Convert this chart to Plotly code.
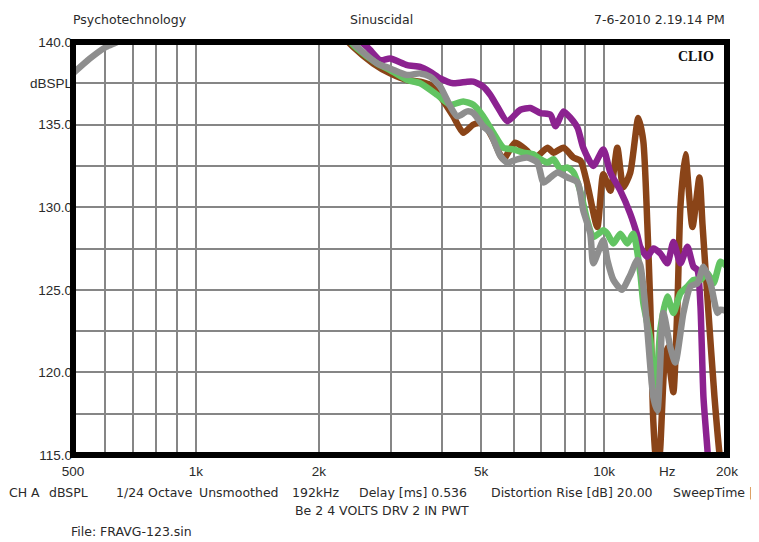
import math
import plotly.graph_objects as go

# ---------------- data ----------------
freq_gray = [500, 550, 602, 641, 1000, 2000, 2484, 2781, 2992, 3294, 3543, 3749, 3968, 4199, 4369,
             4621, 4780, 5057, 5262, 5568, 5793, 6130, 6487, 6865, 7102, 7390, 7688, 8136, 8610,
             8891, 9250, 9408, 9955, 10184, 10536, 11060, 11591, 12058, 12264, 12474, 12759, 13200,
             13502, 13969, 14531, 14949, 15641, 16274, 16930, 17513, 18220, 18957, 19283, 20000]
db_gray = [138.1, 139.0, 139.7, 140.0, 142.5, 142.0, 139.7, 138.7, 138.4, 138.0, 138.1, 137.9, 137.3,
           136.1, 135.5, 135.8, 135.7, 134.9, 134.5, 133.1, 132.7, 132.9, 133.0, 132.7, 131.5, 131.8,
           132.1, 131.8, 131.5, 129.8, 128.4, 126.6, 128.0, 126.8, 125.6, 125.0, 125.9, 126.8, 126.5,
           125.2, 122.6, 118.5, 117.7, 123.6, 121.5, 120.6, 123.6, 125.2, 125.4, 126.4, 125.4, 123.6,
           123.8, 123.7]

freq_green = [2000, 2484, 2781, 2992, 3294, 3543, 3901, 4199, 4517, 4780, 5057, 5352, 5663, 5993,
              6342, 6711, 6983, 7265, 7516, 7820, 8136, 8418, 8757, 9094, 9408, 9955, 10184, 10536,
              10958, 11396, 11788, 12264, 12474, 12977, 13200, 13350, 13502, 13733, 14287, 14780,
              15377, 16000, 16552, 17219, 17913, 18533, 19283, 20000]
db_green = [142.0, 139.6, 138.7, 138.3, 137.7, 137.5, 136.8, 136.2, 136.4, 136.2, 135.5, 134.5, 133.6,
            133.5, 133.3, 133.2, 132.9, 132.7, 132.9, 132.3, 132.4, 132.1, 130.9, 129.2, 128.2, 128.6,
            128.4, 127.8, 128.4, 127.8, 128.4, 126.0, 124.2, 122.0, 119.6, 119.2, 120.1, 122.6, 124.6,
            123.6, 124.8, 125.2, 125.6, 125.6, 126.0, 125.4, 126.7, 126.4]

freq_brown = [2000, 2428, 2719, 2992, 3294, 3543, 3749, 3968, 4271, 4517, 4780, 5057, 5352, 5663,
              6050, 6487, 6711, 7265, 7516, 7953, 8418, 8757, 9094, 9623, 9955, 10358, 10772, 11143,
              11591, 12126, 12474, 12759, 12977, 13200, 13502, 13733, 14048, 14287, 14531, 14780,
              15119, 15377, 15811, 16459, 17120, 17414, 17913, 18638, 19283, 20000]
db_brown = [142.0, 139.7, 138.7, 138.1, 137.7, 137.6, 137.4, 136.7, 135.5, 134.5, 135.0, 135.1, 134.1,
            132.9, 133.9, 133.4, 132.9, 133.6, 133.3, 133.6, 133.0, 132.8, 131.4, 128.8, 132.0, 131.0,
            133.6, 131.2, 132.1, 135.4, 134.0, 129.0, 124.0, 117.0, 113.5, 115.5, 120.5, 121.5, 120.0,
            118.8, 124.0, 130.0, 133.2, 128.8, 131.8, 129.0, 124.5, 118.5, 114.5, 112.0]

freq_purple = [2000, 2628, 2829, 2992, 3294, 3543, 3749, 3968, 4271, 4621, 4780, 5057, 5262, 5474,
               5793, 6235, 6598, 6983, 7390, 7602, 7953, 8275, 8610, 8891, 9408, 9955, 10358, 10958,
               11591, 12058, 12264, 12759, 13200, 13733, 14287, 14780, 15377, 16000, 16552, 16930,
               17219, 17513, 17913, 18220]
db_purple = [142.0, 139.7, 138.9, 139.0, 138.6, 138.5, 138.2, 137.8, 137.5, 137.6, 137.6, 137.3, 136.8,
             136.1, 135.2, 135.9, 136.0, 135.7, 135.6, 134.9, 135.8, 135.4, 134.8, 133.6, 132.5, 133.5,
             132.1, 131.0, 129.6, 128.3, 127.6, 127.0, 127.5, 127.2, 126.6, 127.9, 126.6, 127.6, 126.4,
             126.2, 124.0, 118.5, 115.3, 112.5]

x_grid_vals = [500, 600, 700, 800, 900, 1000, 2000, 3000, 4000, 5000, 6000, 7000, 8000, 9000, 10000, 20000]
x_grid_text = ["500", "", "", "", "", "1k", "2k", "", "", "5k", "", "", "", "", "10k", "20k"]
y_grid_vals = [115, 117.5, 120, 122.5, 125, 127.5, 130, 132.5, 135, 137.5, 140]
y_grid_text = ["115.0", "", "120.0", "", "125.0", "", "130.0", "", "135.0", "dBSPL", "140.0"]

FONT = "Liberation Sans, Arial, sans-serif"
WFONT = "DejaVu Sans, Verdana, sans-serif"
TXT = "#2a2a2a"

fig = go.Figure()
series = [
    (freq_brown, db_brown, "#8a4418"),
    (freq_purple, db_purple, "#8c2290"),
    (freq_green, db_green, "#62c462"),
    (freq_gray, db_gray, "#8e8e8e"),
]
for fx, fy, col in series:
    fig.add_trace(go.Scatter(x=fx, y=fy, mode="lines",
                             line=dict(color=col, width=6.5, shape="spline", smoothing=0.6),
                             hoverinfo="skip", showlegend=False))

fig.update_xaxes(type="log", range=[math.log10(500), math.log10(20000)],
                 tickvals=x_grid_vals, ticktext=x_grid_text, automargin=False,
                 showgrid=True, gridcolor="#868686", gridwidth=1.8,
                 zeroline=False, showline=False, ticks="", ticklabelstandoff=6,
                 tickfont=dict(family=FONT, size=13.5, color=TXT))
fig.update_yaxes(range=[115, 140], tickvals=y_grid_vals, ticktext=y_grid_text, automargin=False,
                 showgrid=True, gridcolor="#868686", gridwidth=1.8,
                 zeroline=False, showline=False, ticks="",
                 tickfont=dict(family=FONT, size=13.5, color=TXT))

# thick frame
fig.add_shape(type="rect", xref="paper", yref="paper", x0=0, x1=1, y0=0, y1=1,
              line=dict(color="black", width=6), layer="above")

# the page body adds an 8px offset; figure is sized so the plot area lands at page x 73..727, y 42..455
OFF = 8
W, H = 759 - OFF, 542 - OFF
PL, PT, PR, PB = 73, 42, 727, 455          # plot area in page pixels
pw, ph = PR - PL, PB - PT


def px(xp):
    return (xp - PL) / pw


def py(yp):
    return (PB - yp) / ph


def ann(text, xp, yp, anchor="left", size=12.5, family=WFONT, color=TXT):
    fig.add_annotation(text=text, x=px(xp), y=py(yp), xref="paper", yref="paper",
                       xanchor=anchor, yanchor="middle", showarrow=False,
                       font=dict(family=family, size=size, color=color))


ann("Psychotechnology", 71, 19)
ann("Sinuscidal", 381, 19, "center")
ann("7-6-2010 2.19.14 PM", 727, 19, "right")
ann("<b>CLIO</b>", 716, 56, "right", size=14, family="Liberation Serif, Times New Roman, serif", color="#111")
ann("Hz", 667, 471, "center", size=13.5, family=FONT)

footer = [("CH A", 7), ("dBSPL", 47), ("1/24 Octave", 114), ("Unsmoothed", 197), ("192kHz", 290),
          ("Delay [ms] 0.536", 357), ("Distortion Rise [dB] 20.00", 489), ("SweepTime |", 671)]
for t, xpos in footer:
    ann(t, xpos, 492)
ann("Be 2 4 VOLTS DRV 2 IN PWT", 382, 510, "center")
ann("File: FRAVG-123.sin", 69, 531)

fig.update_layout(width=W, height=H,
                  margin=dict(l=PL - OFF, r=W - (PR - OFF), t=PT - OFF, b=H - (PB - OFF), pad=0),
                  paper_bgcolor="white", plot_bgcolor="white", showlegend=False)

fig.write_html("out.html")
